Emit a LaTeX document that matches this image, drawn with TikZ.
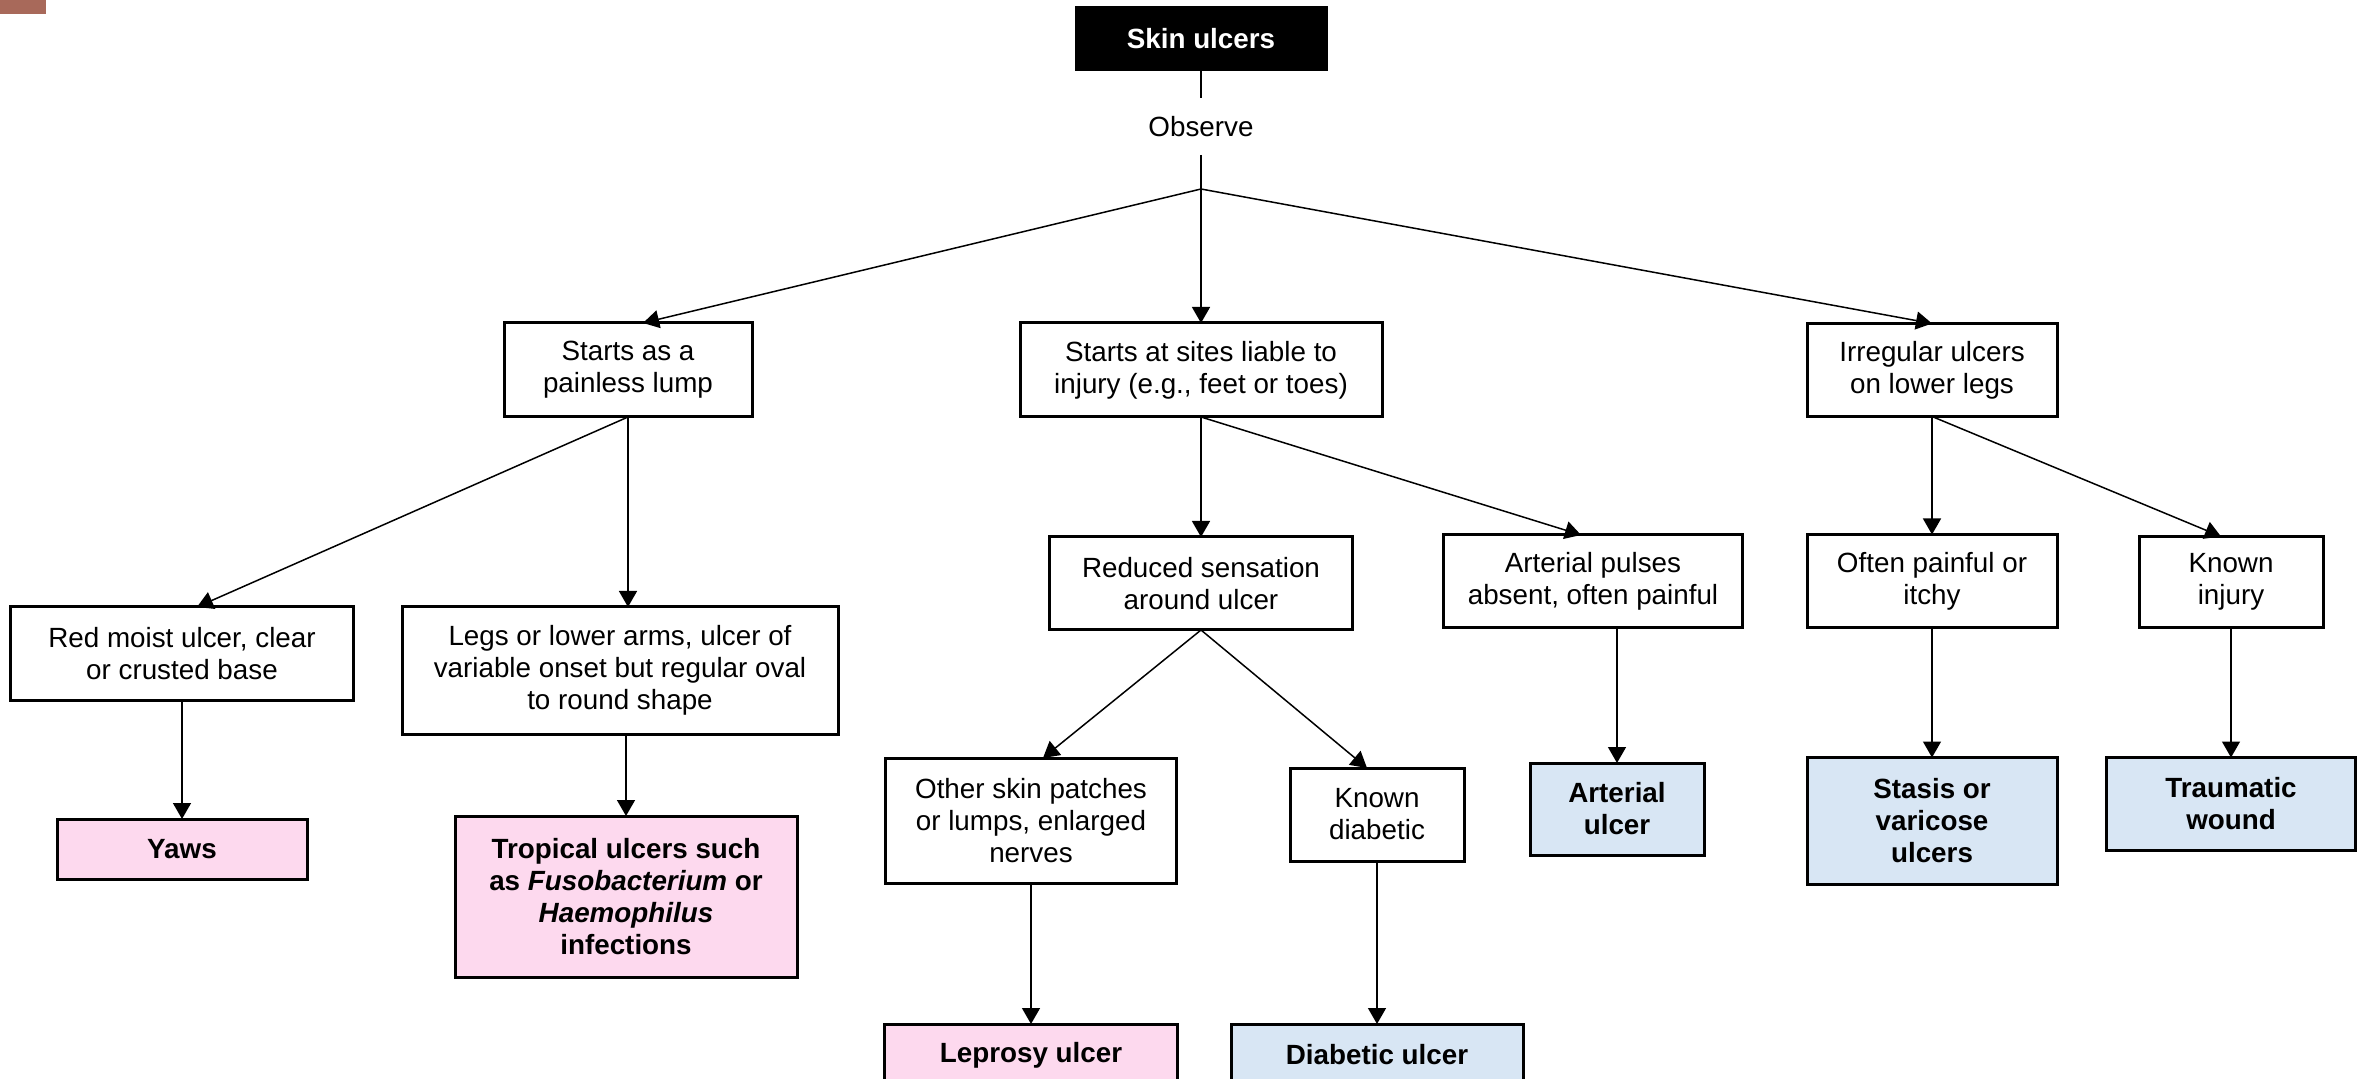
\documentclass[tikz,border=0pt]{standalone}
\usepackage{fontspec}
\setmainfont{Liberation Sans}
\usepackage{tikz}
\usepackage{xcolor}
\usetikzlibrary{positioning,arrows.meta}
\definecolor{pinkfill}{RGB}{253,217,238}
\definecolor{bluefill}{RGB}{216,230,244}
\definecolor{cornerbrown}{RGB}{168,105,90}

\begin{document}
\begin{tikzpicture}[node distance=60pt, font=\fontsize{13.9pt}{16pt}\selectfont]
  \tikzset{
    finding/.style={draw, rectangle, line width=1.5pt, outer sep=0pt, align=center, inner sep=2pt, minimum height=46.5pt, text centered},
    pinkdx/.style={finding, fill=pinkfill, font=\fontsize{13.9pt}{16pt}\selectfont\bfseries},
    bluedx/.style={finding, fill=bluefill, font=\fontsize{13.9pt}{16pt}\selectfont\bfseries},
    rootbox/.style={draw, fill=black, text=white, line width=1.5pt, outer sep=0pt, minimum width=125pt, minimum height=31pt, font=\fontsize{13.9pt}{16pt}\selectfont\bfseries},
    link/.style={line width=0.75pt, -{Triangle[length=8pt,width=9pt]}}
  }

  \useasboundingbox (0,0) rectangle (1180.5pt,-539.5pt);
  \fill[cornerbrown] (0,0) rectangle (23pt,-7pt);

  \node[rootbox] (skin) at (600.5pt,-19.5pt) {Skin ulcers};
  \node[below=14pt of skin, minimum height=28.5pt, inner sep=0pt, outer sep=0pt] (observe) {Observe};
  \coordinate[below=17pt of observe] (fork);

  \node[finding, below=67pt of fork, minimum width=181pt, minimum height=47pt] (sites) {Starts at sites liable to\\injury (e.g., feet or toes)};
  \node[finding, left=134pt of sites, minimum width=124pt, minimum height=47pt] (lump) {Starts as a\\painless lump};
  \node[finding, right=212.5pt of sites, minimum width=125pt] (irregular) {Irregular ulcers\\on lower legs};

  \node[finding, below=95pt of lump, xshift=-223pt, minimum width=171.5pt] (redmoist) {Red moist ulcer, clear\\or crusted base};
  \node[finding, below=95pt of lump, xshift=-4pt, minimum width=218pt, minimum height=63.5pt] (legs) {Legs or lower arms, ulcer of\\variable onset but regular oval\\to round shape};
  \node[finding, below=60pt of sites, minimum width=151.5pt] (reduced) {Reduced sensation\\around ulcer};
  \node[finding, below=59pt of sites, xshift=196pt, minimum width=149.5pt] (arterialp) {Arterial pulses\\absent, often painful};
  \node[finding, below=59pt of irregular, minimum width=125pt] (painful) {Often painful or\\itchy};
  \node[finding, below=60pt of irregular, xshift=149.5pt, minimum width=92pt, minimum height=45.5pt] (injury) {Known\\injury};

  \node[pinkdx, below=59.5pt of redmoist, minimum width=125pt, minimum height=30pt] (yaws) {Yaws};
  \node[pinkdx, below=41pt of legs, xshift=3pt, minimum width=171pt, minimum height=80.5pt] (tropical) {Tropical ulcers such\\as \textit{Fusobacterium} or\\\textit{Haemophilus}\\infections};
  \node[finding, below=64pt of reduced, xshift=-85pt, minimum width=145.5pt, minimum height=62.5pt] (otherskin) {Other skin patches\\or lumps, enlarged\\nerves};
  \node[finding, below=69pt of reduced, xshift=88pt, minimum width=87pt] (knowndiab) {Known\\diabetic};
  \node[bluedx, below=67.5pt of arterialp, xshift=12pt, minimum width=87pt, minimum height=46pt] (arterialu) {Arterial\\ulcer};
  \node[bluedx, below=65pt of painful, minimum width=125pt, minimum height=63.5pt] (stasis) {Stasis or\\varicose\\ulcers};
  \node[bluedx, below=65pt of injury, minimum width=124.5pt] (traumatic) {Traumatic\\wound};

  \node[pinkdx, below=70.5pt of otherskin, minimum width=146.5pt, minimum height=31pt] (leprosy) {Leprosy ulcer};
  \node[bluedx, below=81.5pt of knowndiab, minimum width=146pt, minimum height=31pt] (diabulcer) {Diabetic ulcer};

  \draw[line width=0.75pt] (skin) -- (observe);
  \draw[line width=0.75pt] (observe) -- (fork);
  \draw[link] (fork) -- ([xshift=7.5pt]lump.north);
  \draw[link] (fork) -- (sites);
  \draw[link] (fork) -- (irregular.north);
  \draw[link] (lump.south) -- ([xshift=7.5pt]redmoist.north);
  \draw[link] (lump.south) -- (lump.south |- legs.north);
  \draw[link] (sites.south) -- (reduced);
  \draw[link] (sites.south) -- ([xshift=-6pt]arterialp.north);
  \draw[link] (irregular) -- (painful);
  \draw[link] (irregular.south) -- ([xshift=-5pt]injury.north);
  \draw[link] (redmoist) -- (yaws);
  \draw[link] (tropical.north |- legs.south) -- (tropical);
  \draw[link] (reduced.south) -- ([xshift=6pt]otherskin.north);
  \draw[link] (reduced.south) -- ([xshift=-5pt]knowndiab.north);
  \draw[link] (arterialu.north |- arterialp.south) -- (arterialu);
  \draw[link] (painful) -- (stasis);
  \draw[link] (injury) -- (traumatic);
  \draw[link] (otherskin) -- (leprosy);
  \draw[link] (knowndiab) -- (diabulcer);
\end{tikzpicture}
\end{document}
